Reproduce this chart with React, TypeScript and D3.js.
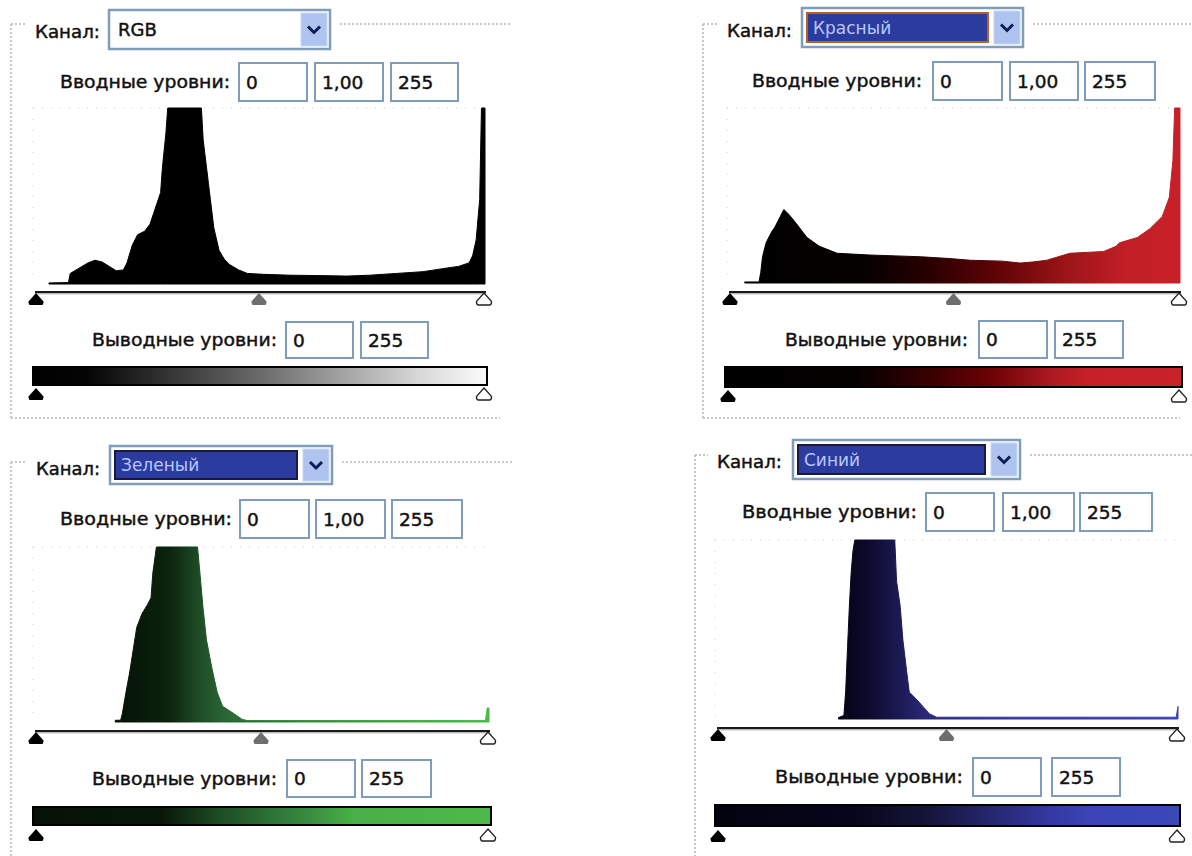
import React from "react";
import * as d3 from "d3";

// ---------- data ----------
const LEVEL_DOMAIN: [number, number] = [0, 255];
const CHANNEL_NAMES = ["RGB", "Красный", "Зеленый", "Синий"];
const INPUT_LEVELS = ["0", "1,00", "255"];
const OUTPUT_LEVELS = ["0", "255"];
const LABEL_CHANNEL = "Канал:";
const LABEL_INPUT = "Вводные уровни:";
const LABEL_OUTPUT = "Выводные уровни:";

const RGB_LEVELS = [9, 20, 21, 26, 31, 35, 39, 43, 47, 51, 53, 56, 59, 63, 66, 68, 70, 72, 73, 75, 76, 95, 96, 99, 102, 105, 108, 111, 116, 121, 130, 145, 160, 177, 190, 205, 220, 233, 240, 246, 248, 250, 252, 253, 255];
const RGB_VALUES = [0.006, 0.008, 0.06, 0.09, 0.12, 0.135, 0.125, 0.1, 0.075, 0.08, 0.12, 0.22, 0.28, 0.3, 0.34, 0.4, 0.46, 0.52, 0.66, 0.86, 1, 1, 0.82, 0.57, 0.32, 0.19, 0.14, 0.11, 0.08, 0.06, 0.055, 0.05, 0.048, 0.045, 0.05, 0.06, 0.07, 0.09, 0.1, 0.12, 0.16, 0.25, 0.48, 1, 1];

const RED_LEVELS = [10, 18, 19, 20, 22, 25, 27, 30, 32, 35, 39, 42, 45, 52, 62, 80, 95, 109, 125, 137, 155, 165, 172, 180, 193, 212, 219, 221, 231, 238, 245, 249, 251, 252, 255];
const RED_VALUES = [0.006, 0.006, 0.06, 0.15, 0.23, 0.29, 0.32, 0.38, 0.42, 0.39, 0.34, 0.3, 0.26, 0.21, 0.17, 0.16, 0.155, 0.15, 0.14, 0.13, 0.125, 0.114, 0.12, 0.13, 0.17, 0.18, 0.21, 0.23, 0.26, 0.31, 0.38, 0.49, 0.7, 1, 1];

const GREEN_LEVELS = [46, 49, 50, 52, 54, 56, 58, 61, 64, 66, 67, 69, 92, 93, 95, 97, 100, 103, 106, 112, 117, 120, 253, 254, 255];
const GREEN_VALUES = [0.01, 0.01, 0.05, 0.17, 0.28, 0.41, 0.54, 0.62, 0.67, 0.71, 0.85, 1, 1, 0.89, 0.66, 0.47, 0.31, 0.17, 0.09, 0.05, 0.015, 0.008, 0.008, 0.08, 0.08];

const BLUE_LEVELS = [68, 71, 72, 73, 74, 75, 76, 77, 99, 100, 102, 103.5, 105.5, 107, 111, 114.5, 118, 122, 254, 255];
const BLUE_VALUES = [0.008, 0.02, 0.16, 0.4, 0.63, 0.82, 0.94, 1, 1, 0.77, 0.63, 0.44, 0.27, 0.15, 0.11, 0.07, 0.03, 0.01, 0.01, 0.07];

// ---------- styles / layout ----------
type Stop = [number, string];
const FONT = "'DejaVu Sans', Tahoma, sans-serif";

const PANELS = [
  {
    levels: RGB_LEVELS, values: RGB_VALUES,
    fill: [[0, "#000"], [1, "#000"]] as Stop[],
    bar: [[0, "#000"], [0.12, "#050505"], [0.5, "#6a6a6a"], [0.85, "#d8d8d8"], [1, "#fafafa"]] as Stop[],
    hx0: 33, hx1: 485, hTop: 108, hBase: 284,
    frameX: 11, frameY: 24, frameBottom: 418, frameRight: 512,
    chanX: 35, chanRight: 100, chanY: 31,
    dd: [109, 10, 330, 49], selected: false, selBorder: "",
    inLabel: [60, 230], inBoxes: [[239, 307], [315, 383], [391, 458]], inY: [63, 101],
    sliderY: 292,
    outLabel: [92, 277], outBoxes: [[286, 353], [361, 428]], outY: [322, 358],
    barBox: [33, 487, 367, 385], triY: 388,
  },
  {
    levels: RED_LEVELS, values: RED_VALUES,
    fill: [[0, "#000"], [0.3, "#050000"], [0.45, "#2a0000"], [0.6, "#600406"], [0.75, "#9c1418"], [0.88, "#c21f26"], [1, "#c8202a"]] as Stop[],
    bar: [[0, "#000"], [0.28, "#040000"], [0.45, "#3a0000"], [0.58, "#6a0204"], [0.72, "#b01a20"], [0.8, "#c62028"], [1, "#c8222a"]] as Stop[],
    hx0: 727, hx1: 1180, hTop: 108, hBase: 283,
    frameX: 703, frameY: 24, frameBottom: 418, frameRight: 1192,
    chanX: 727, chanRight: 792, chanY: 30,
    dd: [802, 8, 1023, 47], selected: true, selBorder: "#b8602a",
    inLabel: [752, 922], inBoxes: [[933, 1002], [1010, 1078], [1085, 1155]], inY: [62, 100],
    sliderY: 292,
    outLabel: [785, 968], outBoxes: [[979, 1047], [1055, 1123]], outY: [321, 358],
    barBox: [725, 1182, 367, 387], triY: 390,
  },
  {
    levels: GREEN_LEVELS, values: GREEN_VALUES,
    fill: [[0, "#000"], [0.2, "#061406"], [0.3, "#0c240e"], [0.36, "#1d4a24"], [0.42, "#2a6634"], [0.5, "#2f7a3a"], [0.7, "#3d9a40"], [1, "#4cb848"]] as Stop[],
    bar: [[0, "#061206"], [0.28, "#081808"], [0.4, "#1c4a22"], [0.52, "#2d7236"], [0.64, "#3f9a42"], [0.7, "#48b046"], [1, "#4cba4a"]] as Stop[],
    hx0: 33, hx1: 489, hTop: 547, hBase: 722,
    frameX: 11, frameY: 462, frameBottom: 900, frameRight: 512,
    chanX: 36, chanRight: 100, chanY: 468,
    dd: [110, 446, 332, 484], selected: true, selBorder: "#1a1a40",
    inLabel: [60, 232], inBoxes: [[240, 309], [316, 385], [392, 462]], inY: [500, 538],
    sliderY: 731,
    outLabel: [92, 277], outBoxes: [[287, 355], [362, 431]], outY: [760, 797],
    barBox: [33, 491, 807, 825], triY: 829,
  },
  {
    levels: BLUE_LEVELS, values: BLUE_VALUES,
    fill: [[0, "#000"], [0.28, "#05041a"], [0.34, "#0e0c30"], [0.4, "#1c1a55"], [0.46, "#2a2a7a"], [0.6, "#3434a0"], [1, "#3c40b8"]] as Stop[],
    bar: [[0, "#03030f"], [0.3, "#06061c"], [0.45, "#141438"], [0.58, "#24246a"], [0.72, "#3438a0"], [0.8, "#3a44b4"], [1, "#3c48b8"]] as Stop[],
    hx0: 715, hx1: 1178, hTop: 540, hBase: 719,
    frameX: 695, frameY: 455, frameBottom: 900, frameRight: 1192,
    chanX: 717, chanRight: 782, chanY: 461,
    dd: [793, 440, 1020, 479], selected: true, selBorder: "#1a1a40",
    inLabel: [742, 917], inBoxes: [[926, 994], [1003, 1074], [1080, 1152]], inY: [493, 531],
    sliderY: 728,
    outLabel: [775, 963], outBoxes: [[973, 1041], [1052, 1120]], outY: [758, 796],
    barBox: [715, 1180, 805, 826], triY: 830,
  },
];

function marker(cx: number, y: number, w = 15, h = 12) {
  const p = d3.path();
  p.moveTo(cx, y);
  p.lineTo(cx + w / 2, y + h * 0.7);
  p.quadraticCurveTo(cx + w / 2, y + h, cx + w / 2 - 2, y + h);
  p.lineTo(cx - w / 2 + 2, y + h);
  p.quadraticCurveTo(cx - w / 2, y + h, cx - w / 2, y + h * 0.7);
  p.closePath();
  return p.toString();
}

const TEXT_STROKE = { stroke: "#111", strokeWidth: 0.45 };

function InputBox({ x0, x1, y0, y1, text }: any) {
  return (
    <g>
      <rect x={x0} y={y0} width={x1 - x0} height={y1 - y0} fill="#fff" stroke="#7f9db9" strokeWidth={2} />
      <text x={x0 + 7} y={(y0 + y1) / 2 + 6.5} fontFamily={FONT} fontSize={18.5} fill="#111" {...TEXT_STROKE}>{text}</text>
    </g>
  );
}

function Panel({ cfg, idx }: any) {
  const x = d3.scaleLinear().domain(LEVEL_DOMAIN).range([cfg.hx0, cfg.hx1]);
  const y = d3.scaleLinear().domain([0, 1]).range([cfg.hBase, cfg.hTop]).clamp(true);
  const pts = cfg.levels.map((l: number, i: number) => [l, cfg.values[i]] as [number, number]);
  const area = d3.area<[number, number]>()
    .x((d) => x(d[0]))
    .y0(cfg.hBase)
    .y1((d) => y(d[1]))
    .curve(d3.curveLinear);
  const [dx0, dy0, dx1, dy1] = cfg.dd;
  const [bx0, bx1, by0, by1] = cfg.barBox;
  const gradId = `hist-grad-${idx}`;
  const barId = `bar-grad-${idx}`;
  const midX = x(127.5);
  const dash = "2,2";
  const frameColor = "#b8b8b8";
  return (
    <g>
      <defs>
        <linearGradient id={gradId} gradientUnits="userSpaceOnUse" x1={cfg.hx0} x2={cfg.hx1} y1={0} y2={0}>
          {cfg.fill.map((s: Stop, i: number) => <stop key={i} offset={s[0]} stopColor={s[1]} />)}
        </linearGradient>
        <linearGradient id={barId} gradientUnits="userSpaceOnUse" x1={bx0} x2={bx1} y1={0} y2={0}>
          {cfg.bar.map((s: Stop, i: number) => <stop key={i} offset={s[0]} stopColor={s[1]} />)}
        </linearGradient>
      </defs>
      {/* group frame */}
      <line x1={cfg.frameX} x2={cfg.frameX} y1={cfg.frameY} y2={cfg.frameBottom} stroke={frameColor} strokeWidth={1.5} strokeDasharray={dash} />
      <line x1={cfg.frameX} x2={cfg.chanX - 9} y1={cfg.frameY} y2={cfg.frameY} stroke={frameColor} strokeWidth={1.5} strokeDasharray={dash} />
      <line x1={dx1 + 10} x2={cfg.frameRight} y1={cfg.frameY} y2={cfg.frameY} stroke={frameColor} strokeWidth={1.5} strokeDasharray={dash} />
      {cfg.frameBottom < 856 && (
        <line x1={cfg.frameX} x2={cfg.frameRight - 12} y1={cfg.frameBottom} y2={cfg.frameBottom} stroke={frameColor} strokeWidth={1.5} strokeDasharray={dash} />
      )}
      {/* channel label + dropdown */}
      <text x={cfg.chanX} y={cfg.chanY + 6.5} fontFamily={FONT} fontSize={18} fill="#111" {...TEXT_STROKE}
        textLength={cfg.chanRight - cfg.chanX} lengthAdjust="spacingAndGlyphs">{LABEL_CHANNEL}</text>
      <rect x={dx0} y={dy0} width={dx1 - dx0} height={dy1 - dy0} fill="#fff" stroke="#7f9db9" strokeWidth={2.5} />
      {cfg.selected ? (
        <g>
          <rect x={dx0 + 5} y={dy0 + 5} width={dx1 - dx0 - 40} height={dy1 - dy0 - 10} fill="#2c3b9e" stroke={cfg.selBorder} strokeWidth={2} />
          <text x={dx0 + 11} y={(dy0 + dy1) / 2 + 6} fontFamily={FONT} fontSize={17} fill="#b8c8ff">{CHANNEL_NAMES[idx]}</text>
        </g>
      ) : (
        <text x={dx0 + 9} y={(dy0 + dy1) / 2 + 6.5} fontFamily={FONT} fontSize={18} fill="#111" {...TEXT_STROKE}>{CHANNEL_NAMES[idx]}</text>
      )}
      <rect x={dx1 - 29} y={dy0 + 3} width={26} height={dy1 - dy0 - 6} fill="#aec4ee" stroke="#c8d8f4" strokeWidth={1} />
      <path d={`M${dx1 - 22},${(dy0 + dy1) / 2 - 3} L${dx1 - 16},${(dy0 + dy1) / 2 + 3} L${dx1 - 10},${(dy0 + dy1) / 2 - 3}`}
        fill="none" stroke="#0c1d5a" strokeWidth={3} />
      {/* input levels */}
      <text x={cfg.inLabel[0]} y={(cfg.inY[0] + cfg.inY[1]) / 2 + 6} fontFamily={FONT} fontSize={18} fill="#111" {...TEXT_STROKE}
        textLength={cfg.inLabel[1] - cfg.inLabel[0]} lengthAdjust="spacingAndGlyphs">{LABEL_INPUT}</text>
      {cfg.inBoxes.map((b: number[], i: number) => (
        <InputBox key={i} x0={b[0]} x1={b[1]} y0={cfg.inY[0]} y1={cfg.inY[1]} text={INPUT_LEVELS[i]} />
      ))}
      {/* histogram frame (dotted) */}
      <line x1={cfg.hx0} x2={cfg.hx1} y1={cfg.hTop} y2={cfg.hTop} stroke="#e0c0cc" strokeWidth={1} strokeDasharray="1,8" />
      <line x1={cfg.hx0} x2={cfg.hx0} y1={cfg.hTop} y2={cfg.hBase} stroke="#dcc8d4" strokeWidth={1} strokeDasharray="1,10" />
      {/* histogram */}
      <path d={area(pts) || ""} fill={`url(#${gradId})`} stroke={`url(#${gradId})`} strokeWidth={1} strokeLinejoin="round" />
      {/* input slider */}
      <line x1={cfg.hx0 + 2} x2={cfg.hx1 + 1} y1={cfg.sliderY} y2={cfg.sliderY} stroke="#1a1a1a" strokeWidth={2} />
      <line x1={cfg.hx0 + 2} x2={cfg.hx1 + 1} y1={cfg.sliderY + 1.8} y2={cfg.sliderY + 1.8} stroke="#9a9a9a" strokeWidth={1} />
      <path d={marker(cfg.hx0 + 3, cfg.sliderY + 1)} fill="#000" />
      <path d={marker(midX, cfg.sliderY + 1)} fill="#6e6e6e" />
      <path d={marker(cfg.hx1 - 1, cfg.sliderY + 1)} fill="#fff" stroke="#222" strokeWidth={1.4} />
      {/* output levels */}
      <text x={cfg.outLabel[0]} y={(cfg.outY[0] + cfg.outY[1]) / 2 + 6} fontFamily={FONT} fontSize={18} fill="#111" {...TEXT_STROKE}
        textLength={cfg.outLabel[1] - cfg.outLabel[0]} lengthAdjust="spacingAndGlyphs">{LABEL_OUTPUT}</text>
      {cfg.outBoxes.map((b: number[], i: number) => (
        <InputBox key={i} x0={b[0]} x1={b[1]} y0={cfg.outY[0]} y1={cfg.outY[1]} text={OUTPUT_LEVELS[i]} />
      ))}
      <rect x={bx0} y={by0} width={bx1 - bx0} height={by1 - by0} fill={`url(#${barId})`} stroke="#000" strokeWidth={2} />
      <path d={marker(bx0 + 3, cfg.triY)} fill="#000" />
      <path d={marker(bx1 - 3, cfg.triY)} fill="#fff" stroke="#222" strokeWidth={1.4} />
    </g>
  );
}

export default function App() {
  return (
    <svg width={1192} height={856} style={{ position: "absolute", left: 0, top: 0, background: "#fff" }}>
      <rect x={0} y={0} width={1192} height={856} fill="#fff" />
      {PANELS.map((p, i) => <Panel key={i} cfg={p} idx={i} />)}
    </svg>
  );
}
